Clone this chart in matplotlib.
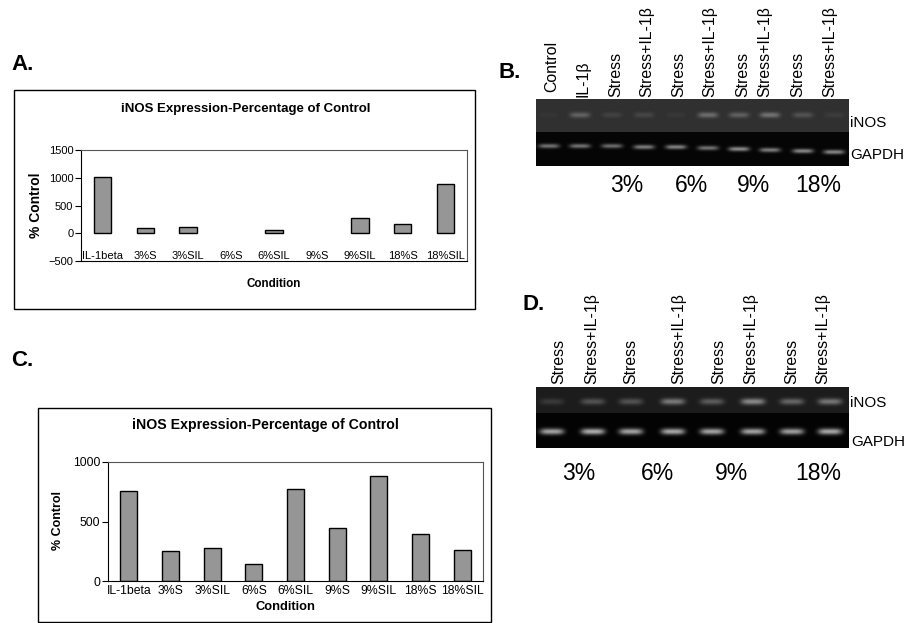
import numpy as np
import matplotlib
matplotlib.use('Agg')
import matplotlib.pyplot as plt
from matplotlib.patches import Rectangle

plt.rcParams['font.family'] = ['Liberation Sans', 'DejaVu Sans']

W, H = 906, 623

conditions = ['IL-1beta', '3%S', '3%SIL', '6%S', '6%SIL', '9%S', '9%SIL', '18%S', '18%SIL']
values_a = [1020, 90, 110, 0, 60, 0, 270, 170, 880]
values_c = [760, 250, 280, 140, 775, 445, 885, 395, 260]

title = 'iNOS Expression-Percentage of Control'

labels_b = ['Control', 'IL-1β', 'Stress', 'Stress+IL-1β', 'Stress', 'Stress+IL-1β',
            'Stress', 'Stress+IL-1β', 'Stress', 'Stress+IL-1β']
labels_d = ['Stress', 'Stress+IL-1β', 'Stress', 'Stress+IL-1β',
            'Stress', 'Stress+IL-1β', 'Stress', 'Stress+IL-1β']
percents = ['3%', '6%', '9%', '18%']

# band brightness per lane, 0-255
inos_b = [5, 50, 18, 22, 8, 60, 48, 65, 35, 12]
gapdh_b = [105, 105, 100, 115, 120, 105, 130, 115, 125, 125]
inos_d = [30, 55, 55, 95, 65, 110, 75, 90]
gapdh_d = [160, 170, 160, 165, 160, 160, 155, 165]


def axes_px(x0, y0, x1, y1):
    # axes from pixel box, y measured from the top of the picture
    return fig.add_axes([x0 / W, 1 - y1 / H, (x1 - x0) / W, (y1 - y0) / H])


def bar_panel(box, values, ylim, yticks, pad, tick_size, label_sizes, title_size, title_xy, ylabel_xy, xlabel_xy):
    ax = axes_px(*box)
    ax.patch.set_alpha(0)
    x = np.arange(len(values))
    # empty conditions get no outline at all
    widths = [1.0 if v else 0 for v in values]
    ax.bar(x, values, width=0.41, color='#969696', edgecolor='black', linewidth=widths)
    ax.set_xlim(-0.5, len(values) - 0.5)
    ax.set_ylim(*ylim)
    ax.set_yticks(yticks)
    ax.set_xticks(x)
    ax.set_xticklabels(conditions)
    ax.tick_params(axis='x', length=0, pad=pad, labelsize=tick_size)
    ax.tick_params(axis='y', length=4, width=0.8, pad=1.5, labelsize=tick_size)
    ax.spines['top'].set_color('#555555')
    ax.spines['right'].set_color('#555555')
    canvas.text(title_xy[0], title_xy[1], title, fontsize=title_size, fontweight='bold', ha='center', va='center')
    canvas.text(ylabel_xy[0], ylabel_xy[1], '% Control', fontsize=label_sizes[0], fontweight='bold',
                rotation=90, ha='center', va='center')
    canvas.text(xlabel_xy[0], xlabel_xy[1], 'Condition', fontsize=label_sizes[1], fontweight='bold', ha='center', va='center')
    return ax


def gel(box, lanes, row_y, levels, bg, band_w, band_h):
    # one gel strip: dark background with a soft band per lane
    x0, y0, x1, y1 = box
    xx, yy = np.meshgrid(np.arange(x0, x1) + 0.5, np.arange(y0, y1) + 0.5)
    img = np.full(xx.shape, float(bg))
    for lx, ly, level in zip(lanes, row_y, levels):
        img += level * np.exp(-((np.abs(xx - lx) / band_w) ** 4) - ((yy - ly) / band_h) ** 2)
    ax = axes_px(*box)
    ax.imshow(img, cmap='gray', vmin=0, vmax=255, aspect='auto', interpolation='bilinear')
    ax.axis('off')


fig = plt.figure(figsize=(W / 100, H / 100), dpi=100)
canvas = fig.add_axes([0, 0, 1, 1])
canvas.set_xlim(0, W)
canvas.set_ylim(H, 0)
canvas.axis('off')

canvas.add_patch(Rectangle((14, 90), 461, 219, fill=False, edgecolor='black', linewidth=1))
canvas.add_patch(Rectangle((38, 408), 453, 214, fill=False, edgecolor='black', linewidth=1))

bar_panel((81, 150, 467, 261), values_a, (-500, 1500), [-500, 0, 500, 1000, 1500], -7, 8, (10, 8.4),
          9.55, (246, 109), (36, 205), (274, 284))
bar_panel((108, 462, 483, 581), values_c, (0, 1000), [0, 500, 1000], 3, 8.8, (9, 9.3),
          10.2, (265, 425), (58, 521), (285, 607))

for letter, lx, ly in [('A.', 11, 64), ('B.', 499, 72), ('C.', 11, 361), ('D.', 523, 305)]:
    canvas.text(lx, ly, letter, fontsize=16, fontweight='bold', ha='left', va='center')

lanes_b = [549, 580, 612, 644, 676, 708, 739, 770, 803, 834]
gapdh_y_b = [146, 146, 146, 147, 147, 148, 149, 150, 151, 152]
gel((536, 99, 849, 132), lanes_b, [115] * 10, inos_b, 48, 10, 2.8)
gel((536, 132, 849, 166), lanes_b, gapdh_y_b, gapdh_b, 5, 10.5, 2.3)

lanes_d = [552, 593, 631, 673, 712, 753, 792, 830]
gel((536, 387, 849, 413), lanes_d, [402] * 8, inos_d, 28, 12, 3)
gel((536, 413, 849, 448), lanes_d, [432] * 8, gapdh_d, 3, 12, 3)

label_x_b = [552, 583, 616, 647, 679, 710, 743, 765, 798, 830]
label_y_b = [92, 97, 97, 97, 97, 97, 97, 97, 97, 97]
for name, lx, ly in zip(labels_b, label_x_b, label_y_b):
    canvas.text(lx, ly, name, fontsize=11.4, rotation=90, ha='center', va='bottom')
label_x_d = [559, 592, 631, 679, 719, 751, 792, 823]
for name, lx in zip(labels_d, label_x_d):
    canvas.text(lx, 384, name, fontsize=11.4, rotation=90, ha='center', va='bottom')

for name, lx in zip(percents, [627, 691, 754, 818]):
    canvas.text(lx, 185, name, fontsize=16.5, ha='center', va='center')
for name, lx in zip(percents, [579, 658, 731, 818]):
    canvas.text(lx, 473, name, fontsize=16.5, ha='center', va='center')

canvas.text(850, 123, 'iNOS', fontsize=11, ha='left', va='center')
canvas.text(850, 155, 'GAPDH', fontsize=11, ha='left', va='center')
canvas.text(850, 403, 'iNOS', fontsize=11, ha='left', va='center')
canvas.text(851, 442, 'GAPDH', fontsize=11, ha='left', va='center')

fig.savefig('out.png', dpi=100)
